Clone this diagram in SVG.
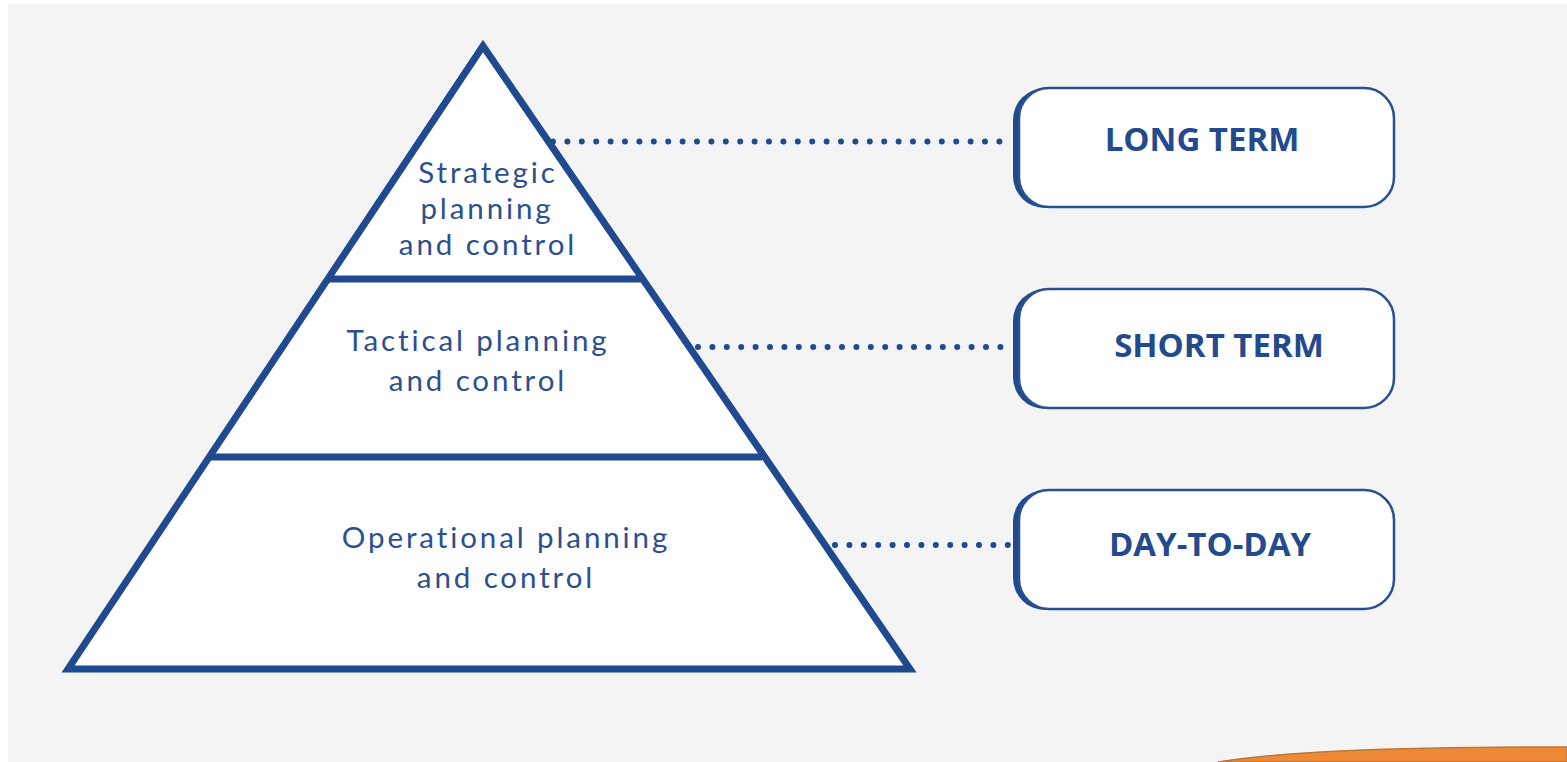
<svg xmlns="http://www.w3.org/2000/svg" width="1567" height="762" viewBox="0 0 1567 762">
<style>
.lbl{font-family:Lato,"Open Sans","Liberation Sans",sans-serif;font-size:29.5px;letter-spacing:2.9px;fill:#2b4f8f;text-anchor:middle}
.term{font-family:"Open Sans","Noto Sans","Liberation Sans",sans-serif;font-size:33px;font-weight:bold;fill:#234a8c;text-anchor:middle}
.edge{fill:none;stroke:#1f4a8f;stroke-width:7}
.box{fill:#fff;stroke:#2a5090;stroke-width:2.5}
.shadow{fill:#1f4a8f}
.dots{fill:none;stroke:#1f4a8f;stroke-width:6;stroke-linecap:round;stroke-dasharray:0 14.4}
</style>
<rect x="0" y="0" width="1567" height="762" fill="#ffffff"/>
<rect x="8" y="4" width="1559" height="758" fill="#f4f4f4"/>
<path d="M1218 762 C1280 752 1380 747 1567 747 L1567 762 Z" fill="#ee8a35" stroke="#b9793a" stroke-width="1.5"/>

<g id="pyramid">
  <polygon points="483,46 68,669 910,669" fill="#ffffff" stroke="#1f4a8f" stroke-width="7" stroke-linejoin="miter"/>
  <line x1="326" y1="279" x2="643" y2="279" class="edge"/>
  <line x1="208" y1="457" x2="762" y2="457" class="edge"/>
</g>
<g id="strategic">
  <text class="lbl"><tspan x="488" y="183">Strategic</tspan><tspan x="487" y="219">planning</tspan><tspan x="488" y="255">and control</tspan></text>
</g>
<g id="tactical">
  <text class="lbl"><tspan x="478" y="351">Tactical planning</tspan><tspan x="478" y="391">and control</tspan></text>
</g>
<g id="operational">
  <text class="lbl"><tspan x="506" y="548">Operational planning</tspan><tspan x="506" y="588">and control</tspan></text>
</g>

<g id="connectors">
  <line x1="553" y1="141.5" x2="1013" y2="141.5" class="dots"/>
  <line x1="698" y1="347" x2="1013" y2="347" class="dots"/>
  <line x1="835" y1="545" x2="1013" y2="545" class="dots"/>
</g>

<g id="long-term">
  <rect class="shadow" x="1013" y="88" width="376" height="120" rx="32"/>
  <rect class="box" x="1019" y="88" width="375" height="119" rx="30"/>
  <text class="term" x="1202" y="151">LONG TERM</text>
</g>
<g id="short-term">
  <rect class="shadow" x="1013" y="289" width="376" height="120" rx="32"/>
  <rect class="box" x="1019" y="289" width="375" height="119" rx="30"/>
  <text class="term" x="1219" y="357">SHORT TERM</text>
</g>
<g id="day-to-day">
  <rect class="shadow" x="1013" y="490" width="376" height="120" rx="32"/>
  <rect class="box" x="1019" y="490" width="375" height="119" rx="30"/>
  <text class="term" x="1210" y="556">DAY-TO-DAY</text>
</g>
</svg>
